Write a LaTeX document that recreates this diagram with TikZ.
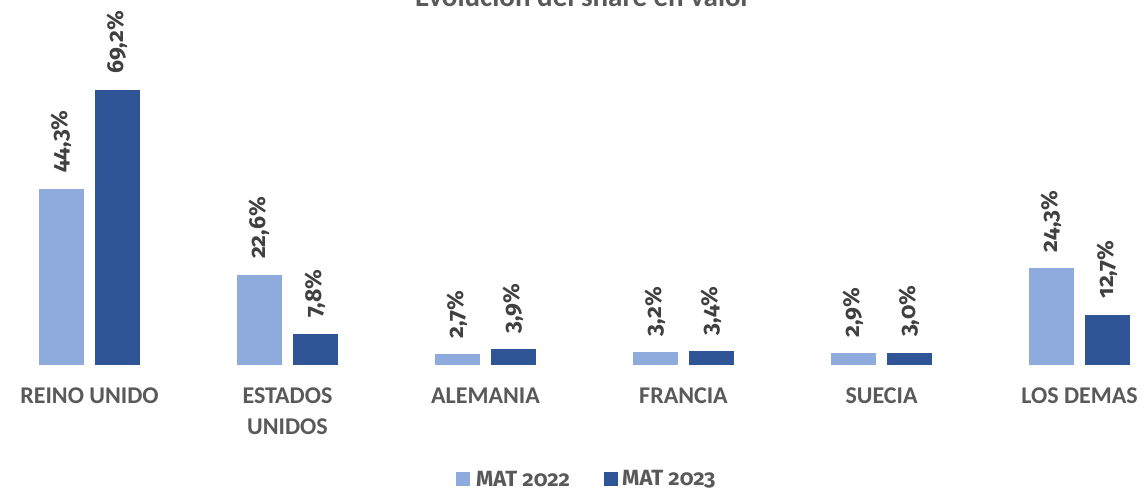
\documentclass[tikz,border=0pt]{standalone}
\usepackage{fontspec}
\setmainfont{Carlito}
\newfontfamily\numfont[Numbers=OldStyle]{Fira Sans}
\begin{document}
\begin{tikzpicture}[x=1pt,y=1pt,
  lightbar/.style={fill=light},
  darkbar/.style={fill=dark},
  vallabel/.style={rotate=90,anchor=west,inner sep=0pt,font=\numfont\bfseries\fontsize{23}{23}\selectfont,text=txtdark},
  catlabel/.style={anchor=north,align=center,inner sep=0pt,font=\bfseries\fontsize{24}{31}\selectfont,text=txtgray},
  legtext/.style={anchor=west,inner sep=0pt,font=\numfont\bfseries\fontsize{22}{22}\selectfont,text=txtgray}]
\definecolor{light}{HTML}{8FAADC}
\definecolor{dark}{HTML}{2F5597}
\definecolor{txtdark}{HTML}{404040}
\definecolor{txtgray}{HTML}{595959}
\useasboundingbox (0,0) rectangle (1148,492);
\fill[white] (0,0) rectangle (1148,492);
% title (cut off at top)
\node[anchor=base,inner sep=0pt,font=\bfseries\fontsize{29}{29}\selectfont,text=txtgray] (title) at (583,485) {Evolución del share en valor};
\def\base{127}
\def\sc{3.975}
\foreach \i/\a/\b/\la/\lb/\cat in {
  0/44.3/69.2/{44,3\%}/{69,2\%}/{REINO UNIDO},
  1/22.6/7.8/{22,6\%}/{7,8\%}/{ESTADOS\\UNIDOS},
  2/2.7/3.9/{2,7\%}/{3,9\%}/{ALEMANIA},
  3/3.2/3.4/{3,2\%}/{3,4\%}/{FRANCIA},
  4/2.9/3.0/{2,9\%}/{3,0\%}/{SUECIA},
  5/24.3/12.7/{24,3\%}/{12,7\%}/{LOS DEMAS}}{
  \pgfmathsetmacro\cx{89.5+198*\i}
  \pgfmathsetmacro\ha{\base+\sc*\a}
  \pgfmathsetmacro\hb{\base+\sc*\b}
  \fill[lightbar] (\cx-50.5,\base) rectangle (\cx-5.5,\ha);
  \fill[darkbar] (\cx+5.5,\base) rectangle (\cx+50.5,\hb);
  \node[vallabel] (va\i) at (\cx-28,\ha+16) {\la};
  \node[vallabel] (vb\i) at (\cx+28,\hb+16) {\lb};
  \node[catlabel] (cat\i) at (\cx,104) {\cat};
}
% legend
\fill[lightbar] (456,6) rectangle (470,20);
\node[legtext] (leg1) at (476,13) {MAT 2022};
\fill[darkbar] (604,6) rectangle (618,20);
\node[legtext] (leg2) at (622,13) {MAT 2023};
\end{tikzpicture}
\end{document}
